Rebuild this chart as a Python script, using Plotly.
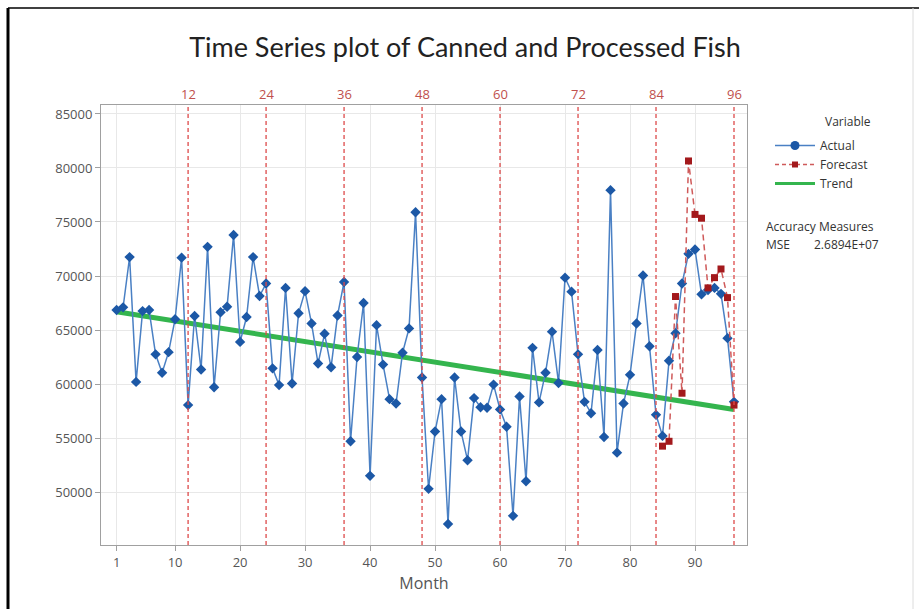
import plotly.graph_objects as go

months = list(range(1, 97))
actual = [66850, 67100, 71750, 60200, 66750, 66850, 62750, 61050, 62950, 66000,
          71700, 58050, 66300, 61350, 72700, 59700, 66650, 67150, 73800, 63900,
          66200, 71750, 68150, 69300, 61450, 59900, 68900, 60050, 66550, 68600,
          65600, 61900, 64650, 61550, 66350, 69450, 54700, 62500, 67500, 51500,
          65450, 61800, 58600, 58200, 62900, 65150, 75900, 60600, 50300, 55600,
          58600, 47050, 60600, 55600, 52950, 58700, 57850, 57800, 59950, 57650,
          56050, 47800, 58850, 51000, 63350, 58300, 61050, 64850, 60100, 69850,
          68550, 62750, 58350, 57300, 63150, 55100, 77950, 53650, 58200, 60850,
          65600, 70050, 63500, 57150, 55200, 62150, 64700, 69300, 72050, 72450,
          68300, 68700, 68900, 68350, 64250, 58350]

forecast_months = list(range(85, 97))
forecast = [54250, 54700, 68100, 59150, 80650, 75700, 75350, 68900, 69850, 70650,
            68000, 58050]

trend_months = [1, 96]
trend = [66700, 57650]

season_marks = [12, 24, 36, 48, 60, 72, 84, 96]
x_ticks = [1, 10, 20, 30, 40, 50, 60, 70, 80, 90]
y_ticks = [50000, 55000, 60000, 65000, 70000, 75000, 80000, 85000]

BLUE_LINE = "#4a80c4"
BLUE_MARK = "#1c58a6"
RED_MARK = "#a3191c"
RED_LINE = "#cf5a5a"
GREEN = "#34b54e"
FONT = "Open Sans"

fig = go.Figure()

fig.add_trace(go.Scatter(x=trend_months, y=trend, mode="lines",
                         line=dict(color=GREEN, width=5), showlegend=False,
                         hoverinfo="skip"))
fig.add_trace(go.Scatter(x=months, y=actual, mode="lines+markers",
                         line=dict(color=BLUE_LINE, width=1.5),
                         marker=dict(symbol="diamond", size=8, color=BLUE_MARK),
                         showlegend=False))
fig.add_trace(go.Scatter(x=forecast_months, y=forecast, mode="lines+markers",
                         line=dict(color=RED_LINE, width=1.5, dash="6px,4px"),
                         marker=dict(symbol="square", size=7, color=RED_MARK),
                         showlegend=False))

# legend-only entries
fig.add_trace(go.Scatter(x=[None], y=[None], mode="lines+markers", name="Actual",
                         line=dict(color=BLUE_LINE, width=1.5),
                         marker=dict(symbol="circle", size=9, color=BLUE_MARK)))
fig.add_trace(go.Scatter(x=[None], y=[None], mode="lines+markers", name="Forecast",
                         line=dict(color=RED_LINE, width=1.5, dash="4px,3px"),
                         marker=dict(symbol="square", size=6, color=RED_MARK)))
fig.add_trace(go.Scatter(x=[None], y=[None], mode="lines", name="Trend",
                         line=dict(color=GREEN, width=3)))

for m in season_marks:
    fig.add_shape(type="line", xref="x", yref="paper", x0=m, x1=m, y0=0, y1=1,
                  line=dict(color="#dd4a4a", width=1.3, dash="4px,3px"), layer="above")
    fig.add_annotation(x=m, xref="x", y=1, yref="paper", yanchor="bottom",
                       text=str(m), showarrow=False, yshift=0,
                       font=dict(family=FONT, size=13, color="#c0504d"))

# outer frame of the picture
fig.add_shape(type="line", xref="paper", yref="paper",
              x0=(8 - 101) / 646, x1=(8 - 101) / 646, y0=(545 - 8) / 440, y1=(545 - 620) / 440,
              line=dict(color="black", width=3))
fig.add_shape(type="line", xref="paper", yref="paper",
              x0=(8 - 101) / 646, x1=(919 - 101) / 646, y0=(545 - 8) / 440, y1=(545 - 8) / 440,
              line=dict(color="black", width=1.5))
fig.add_shape(type="line", xref="paper", yref="paper",
              x0=(913 - 101) / 646, x1=(913 - 101) / 646, y0=(545 - 8) / 440, y1=(545 - 620) / 440,
              line=dict(color="#dcdcdc", width=1))

fig.add_annotation(text="Variable", xref="paper", yref="paper",
                   x=(823 - 101) / 646, y=(545 - 121) / 440, xanchor="left", yanchor="middle",
                   showarrow=False, font=dict(family=FONT, size=12, color="#333"))
fig.add_annotation(text="Accuracy Measures", xref="paper", yref="paper",
                   x=(764 - 101) / 646, y=(545 - 226) / 440, xanchor="left", yanchor="middle",
                   showarrow=False, font=dict(family=FONT, size=12, color="#333"))
fig.add_annotation(text="MSE", xref="paper", yref="paper",
                   x=(764 - 101) / 646, y=(545 - 244) / 440, xanchor="left", yanchor="middle",
                   showarrow=False, font=dict(family=FONT, size=12, color="#333"))
fig.add_annotation(text="2.6894E+07", xref="paper", yref="paper",
                   x=(812 - 101) / 646, y=(545 - 244) / 440, xanchor="left", yanchor="middle",
                   showarrow=False, font=dict(family=FONT, size=12, color="#333"))

fig.update_layout(
    width=919, height=609,
    margin=dict(l=101, r=172, t=105, b=64),
    paper_bgcolor="white", plot_bgcolor="white",
    title=dict(text="Time Series plot of Canned and Processed Fish",
               x=465 / 919, xanchor="center", y=1 - 48 / 609, yanchor="middle",
               font=dict(family="Lato", size=27, color="#222")),
    font=dict(family=FONT, size=12, color="#555"),
    legend=dict(x=(770 - 101) / 646, y=(545 - 131) / 440, xanchor="left", yanchor="top",
                bgcolor="rgba(0,0,0,0)", font=dict(family=FONT, size=12, color="#333"),
                tracegroupgap=0, itemwidth=40),
    xaxis=dict(range=[-1.4, 98], tickvals=x_ticks, showgrid=True, gridcolor="#e8e8e8",
               showline=True, linecolor="#a0a0a0", mirror=True, ticks="outside",
               ticklen=5, tickcolor="#a0a0a0", zeroline=False,
               tickfont=dict(family=FONT, size=13, color="#555"),
               title=dict(text="Month", font=dict(family=FONT, size=16, color="#555"),
                          standoff=8)),
    yaxis=dict(range=[45100, 85830], tickvals=y_ticks, tickformat="d", showgrid=True,
               gridcolor="#e8e8e8",
               showline=True, linecolor="#a0a0a0", mirror=True, ticks="outside",
               ticklen=5, tickcolor="#a0a0a0", zeroline=False,
               tickfont=dict(family=FONT, size=13, color="#555")),
    showlegend=True,
)

fig.write_html("out.html")
